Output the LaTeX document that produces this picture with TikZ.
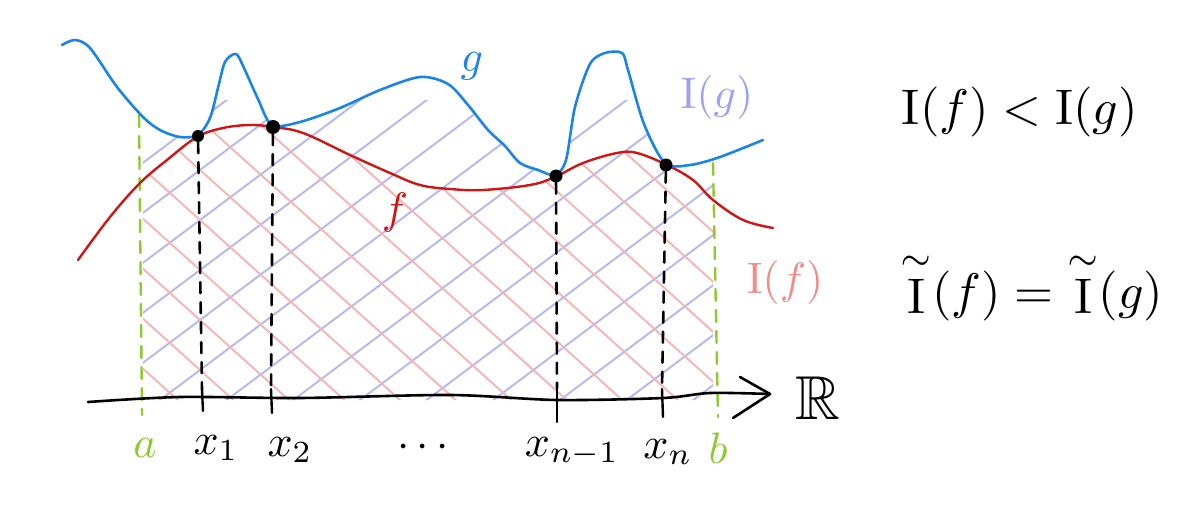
\documentclass[tikz,border=0pt]{standalone}
\usepackage{amssymb}
\definecolor{gblue}{HTML}{1A85E6}
\definecolor{fred}{HTML}{D01515}
\definecolor{hblue}{HTML}{B4B7F4}
\definecolor{hred}{HTML}{F8B4B4}
\definecolor{lgreen}{HTML}{8CCB2B}
\definecolor{lblue}{HTML}{9CA2F2}
\definecolor{lred}{HTML}{F48A8A}
\begin{document}
\begin{tikzpicture}[x=1pt,y=-1pt,line cap=round,line join=round,
  curveg/.style={gblue,line width=2.6pt},
  curvef/.style={fred,line width=2.4pt},
  hatchb/.style={hblue,line width=1.9pt},
  hatchr/.style={hred,line width=1.9pt},
  greendash/.style={lgreen,line width=2.4pt,dash pattern=on 12pt off 9pt},
  blackdash/.style={black,line width=2.6pt,dash pattern=on 11pt off 9pt},
  axisline/.style={black,line width=2.6pt},
  tick/.style={black,line width=2.4pt},
  dot/.style={circle,fill=black,inner sep=0pt,minimum size=#1},
  lbl/.style={scale=4.4,inner sep=0pt},
  big/.style={scale=5,inner sep=0pt}]
\useasboundingbox (0,0) rectangle (1200,527);

% hatching under g (blue)
\begin{scope}
  \clip (143,100) rectangle (713,400);
  \clip (62,45) -- plot[smooth,tension=0.5] coordinates {(62,45) (75,40) (90,48) (117,87) (143,117) (160,130) (180,137) (198,135) (210,118) (218,88) (225,62) (236,54) (244,68) (258,99) (272,125) (300,122) (340,108) (380,90) (420,77) (448,84) (468,105) (488,130) (505,146) (520,163) (538,170) (555,175) (566,160) (575,107) (590,64) (605,53) (622,53) (628,70) (644,124) (665,163) (690,165) (720,157) (763,140)} -- (763,400) -- (62,400) -- cycle;
  \foreach \c in {170,220,...,960}
    \draw[hatchb] (100,{\c-75}) -- (800,{\c-600});
\end{scope}
% hatching under f (red)
\begin{scope}
  \clip (143,100) rectangle (713,400);
  \clip plot[smooth,tension=0.6] coordinates {(78,260) (110,217) (140,183) (167,160) (197,137) (223,128) (250,125) (273,127) (303,133) (350,155) (390,173) (420,185) (450,189) (483,190) (530,185) (555,177) (583,163) (617,153) (637,153) (667,165) (693,180) (713,200) (743,220) (773,228)} -- (773,400) -- (78,400) -- cycle;
  \foreach \c in {-560,-510,...,320}
    \draw[hatchr] (100,{\c+90}) -- (800,{\c+720});
\end{scope}

% green boundaries
\coordinate (atop) at (139,115);
\coordinate (abot) at (142,415);
\coordinate (btop) at (713,163);
\coordinate (bbot) at (718,417);
\draw[greendash] (atop) -- (abot);
\draw[greendash] (btop) -- (bbot);

% curves
\draw[curvef] plot[smooth,tension=0.6] coordinates {(78,260) (110,217) (140,183) (167,160) (197,137) (223,128) (250,125) (273,127) (303,133) (350,155) (390,173) (420,185) (450,189) (483,190) (530,185) (555,177) (583,163) (617,153) (637,153) (667,165) (693,180) (713,200) (743,220) (773,228)};
\draw[curveg] plot[smooth,tension=0.5] coordinates {(62,45) (75,40) (90,48) (117,87) (143,117) (160,130) (180,137) (198,135) (210,118) (218,88) (225,62) (236,54) (244,68) (258,99) (272,125) (300,122) (340,108) (380,90) (420,77) (448,84) (468,105) (488,130) (505,146) (520,163) (538,170) (555,175) (566,160) (575,107) (590,64) (605,53) (622,53) (628,70) (644,124) (665,163) (690,165) (720,157) (763,140)};

% axis
\coordinate (ax0) at (88,402);
\coordinate (ax1) at (770,394);
\coordinate (barbA) at (740,377);
\coordinate (barbB) at (733,418);
\draw[axisline] plot[smooth,tension=0.5] coordinates {(88,402) (180,397) (300,398) (450,395) (557,400) (663,398) (710,393) (770,394)};
\draw[axisline] (barbA) -- (ax1) -- (barbB);

% intersection points
\node[dot=12pt] (p1) at (198,136) {};
\node[dot=14pt] (p2) at (273,127) {};
\node[dot=13pt] (p3) at (556,176) {};
\node[dot=13pt] (p4) at (666,165) {};

% ticks
\coordinate (t1a) at (202,390); \coordinate (t1b) at (203,411);
\coordinate (t2a) at (271,389); \coordinate (t2b) at (272,413);
\coordinate (t3a) at (557,388); \coordinate (t3b) at (557,422);
\coordinate (t4a) at (662,389); \coordinate (t4b) at (663,417);
\draw[tick] (t1a) -- (t1b);
\draw[tick] (t2a) -- (t2b);
\draw[tick] (t3a) -- (t3b);
\draw[tick] (t4a) -- (t4b);

% dashed drops
\draw[blackdash] (p1) -- (t1a);
\draw[blackdash] (p2) -- (t2a);
\draw[blackdash] (p3) -- (t3a);
\draw[blackdash] (p4) -- (t4a);

% labels
\node[lbl,text=lgreen] (la) at (145,448) {$a$};
\node[lbl,text=lgreen] (lb) at (718,448) {$b$};
\node[lbl] (lx1) at (216,448) {$x_1$};
\node[lbl] (lx2) at (290,450) {$x_2$};
\node[lbl] (ldots) at (423,448) {$\cdots$};
\node[lbl] (lxn1) at (572,452) {$x_{n-1}$};
\node[lbl] (lxn) at (668,452) {$x_n$};
\node[scale=6.2,inner sep=0pt] (lR) at (818,398) {$\mathbb{R}$};
\node[lbl,text=gblue] (lg) at (472,66) {$g$};
\node[lbl,text=fred] (lf) at (395,212) {$f$};
\node[lbl,text=lblue] (lIg) at (717,98) {$\mathrm{I}(g)$};
\node[lbl,text=lred] (lIf) at (785,282) {$\mathrm{I}(f)$};
\node[big] (eq1) at (1020,112) {$\mathrm{I}(f)<\mathrm{I}(g)$};
\node[big] (eq2) at (1032,286) {${\stackrel{\sim}{\mathrm{I}}}(f)={\stackrel{\sim}{\mathrm{I}}}(g)$};
\end{tikzpicture}
\end{document}
